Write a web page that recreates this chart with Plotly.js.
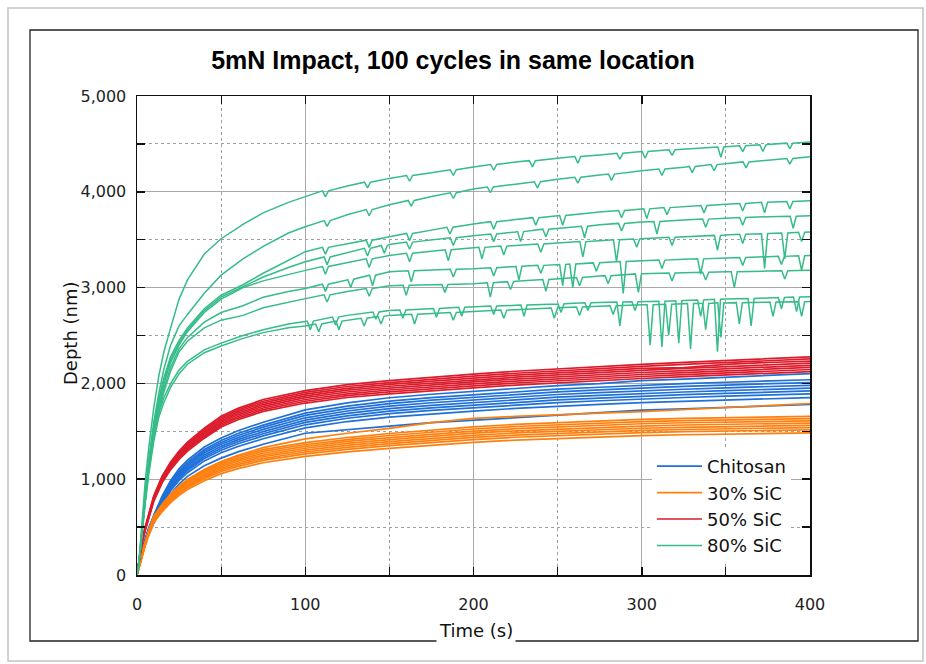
<!DOCTYPE html>
<html><head><meta charset="utf-8">
<script src="https://cdn.plot.ly/plotly-3.0.1.min.js"></script>
<style>html,body{margin:0;padding:0;background:#fff}#chart{width:926px;height:664px}</style>
</head><body><div id="chart"></div>
<script>
// ---------- DATA ----------
const seriesNames = ["Chitosan", "30% SiC", "50% SiC", "80% SiC"];

// time grid (s) for Chitosan / 30% / 50% curves
const timeBand = [0,1,2,3,5,7,10,15,20,25,30,40,50,60,75,100,125,150,175,200,225,250,275,300,325,350,375,400];

// Depth (nm) - Chitosan
const chitosanDepths = [
  [0,85,180,265,387,493,625,827,986,1108,1198,1336,1431,1505,1595,1723,1797,1850,1887,1919,1950,1977,1998,2030,2045,2065,2085,2102],
  [0,83,177,260,380,484,614,811,967,1087,1175,1310,1404,1477,1565,1690,1763,1815,1851,1882,1914,1940,1960,1981,1997,2012,2028,2038],
  [0,82,174,256,374,477,605,800,953,1071,1158,1292,1384,1456,1543,1666,1737,1789,1825,1855,1886,1912,1932,1953,1968,1983,1999,2009],
  [0,81,172,253,369,470,596,788,939,1055,1141,1273,1364,1434,1520,1641,1712,1762,1798,1828,1858,1884,1904,1924,1939,1954,1970,1980],
  [0,80,169,249,363,463,587,776,925,1040,1124,1254,1343,1413,1497,1617,1687,1736,1771,1801,1831,1856,1876,1895,1910,1925,1940,1950],
  [0,78,167,245,358,456,578,764,911,1024,1107,1235,1323,1392,1475,1593,1661,1710,1744,1774,1803,1828,1847,1867,1882,1896,1911,1921],
  [0,77,164,241,352,449,569,753,897,1008,1090,1216,1303,1370,1452,1568,1636,1684,1718,1747,1776,1800,1819,1838,1853,1867,1882,1891],
  [0,76,161,236,345,439,558,737,879,988,1068,1191,1276,1342,1422,1536,1602,1649,1682,1710,1739,1763,1781,1800,1814,1828,1843,1852],
  [0,75,158,230,335,425,540,710,845,950,1030,1140,1220,1285,1365,1480,1520,1555,1590,1615,1645,1670,1695,1720,1735,1750,1765,1780]
];

// Depth (nm) - 30% SiC
const sic30Depths = [
  [0,74,158,232,348,464,612,739,844,928,997,1097,1182,1240,1308,1382,1435,1477,1514,1546,1572,1591,1609,1625,1635,1644,1651,1656],
  [0,73,156,229,343,458,603,728,832,915,983,1082,1165,1222,1290,1362,1414,1456,1492,1524,1550,1568,1586,1602,1612,1620,1628,1633],
  [0,72,154,226,338,451,595,718,820,902,969,1066,1148,1204,1271,1343,1394,1435,1471,1502,1527,1546,1563,1579,1589,1597,1604,1609],
  [0,71,152,222,333,444,586,707,808,889,954,1050,1131,1187,1252,1323,1374,1414,1449,1480,1505,1523,1540,1555,1566,1574,1581,1586],
  [0,70,149,219,328,438,577,697,796,876,940,1035,1114,1169,1234,1303,1353,1393,1428,1458,1483,1500,1517,1532,1542,1550,1557,1562],
  [0,69,147,216,323,431,568,686,784,862,926,1019,1098,1152,1215,1284,1333,1372,1406,1436,1460,1478,1495,1509,1519,1527,1534,1539],
  [0,68,145,212,318,425,560,676,772,849,912,1004,1081,1134,1197,1264,1312,1350,1385,1414,1438,1455,1471,1486,1496,1503,1510,1515],
  [0,66,142,208,312,416,548,662,756,832,893,983,1058,1110,1172,1238,1285,1322,1356,1384,1408,1425,1441,1455,1464,1472,1479,1484],
  [0,75,160,235,350,465,610,735,840,925,995,1100,1185,1250,1330,1420,1480,1530,1590,1635,1655,1675,1690,1705,1725,1745,1770,1790]
];

// Depth (nm) - 50% SiC
const sic50Depths = [
  [0,125,260,362,508,642,828,1035,1180,1294,1387,1532,1656,1739,1832,1925,1987,2029,2065,2096,2127,2153,2179,2199,2220,2241,2261,2277],
  [0,123,256,359,502,636,820,1025,1169,1281,1374,1517,1640,1722,1814,1907,1968,2009,2045,2076,2106,2132,2158,2178,2199,2219,2240,2255],
  [0,122,254,355,497,629,812,1015,1157,1269,1360,1502,1624,1705,1797,1888,1949,1989,2025,2055,2086,2111,2137,2157,2165,2198,2218,2233],
  [0,121,251,352,492,623,804,1005,1146,1256,1347,1487,1608,1688,1779,1869,1930,1970,2005,2035,2065,2090,2116,2136,2156,2176,2196,2211],
  [0,119,249,348,488,617,796,995,1134,1244,1333,1473,1592,1672,1761,1851,1910,1950,1985,2015,2045,2070,2095,2114,2134,2154,2174,2189],
  [0,118,246,345,483,611,788,985,1123,1231,1320,1458,1576,1655,1743,1832,1891,1931,1965,1995,2024,2049,2073,2093,2113,2133,2152,2167],
  [0,117,244,341,478,605,780,975,1112,1219,1307,1443,1560,1638,1726,1814,1872,1911,1945,1974,2004,2028,2052,2072,2091,2111,2130,2145],
  [0,116,241,338,473,598,772,965,1100,1206,1293,1428,1544,1621,1708,1795,1853,1891,1925,1954,1983,2007,2031,2051,2070,2089,2109,2123]
];

// time grid (s) for 80% SiC curves
const timeGreen = [0,1,2,3,5,7,10,13,16,20,25,30,40,50,63,75,90,100,125,150,175,200,225,250,275,300,325,350,375,400];

// Depth (nm) - 80% SiC, upper envelope of each run
const sic80Depths = [
  [0,100,330,560,1000,1330,1750,2080,2330,2580,2880,3080,3350,3510,3660,3780,3890,3950,4060,4140,4200,4260,4310,4350,4385,4420,4445,4470,4495,4520],
  [0,120,300,500,870,1200,1600,1900,2150,2400,2600,2720,2940,3130,3300,3430,3570,3635,3760,3865,3950,4030,4080,4130,4175,4220,4255,4295,4330,4365],
  [0,100,290,500,850,1180,1560,1840,2060,2280,2450,2580,2780,2920,3030,3150,3290,3375,3460,3530,3600,3665,3710,3750,3790,3820,3845,3870,3890,3906],
  [0,100,285,490,840,1160,1540,1810,2030,2250,2420,2560,2760,2900,3010,3110,3210,3270,3365,3450,3500,3540,3580,3620,3655,3685,3705,3725,3740,3750],
  [0,95,280,480,820,1140,1510,1780,2000,2220,2400,2540,2740,2880,3000,3070,3140,3180,3260,3335,3380,3415,3440,3465,3490,3510,3530,3550,3565,3580],
  [0,95,270,470,800,1110,1470,1740,1950,2170,2360,2480,2640,2740,2810,2900,2960,2990,3080,3165,3185,3198,3220,3240,3260,3280,3295,3310,3322,3335],
  [0,90,265,460,790,1090,1440,1700,1910,2130,2330,2440,2580,2660,2710,2790,2850,2885,2960,3020,3030,3040,3065,3090,3120,3145,3155,3165,3172,3180],
  [0,100,280,480,800,1100,1450,1700,1850,2000,2140,2230,2350,2420,2500,2560,2620,2645,2710,2760,2780,2800,2815,2830,2845,2855,2865,2880,2892,2905],
  [0,90,260,450,760,1050,1400,1650,1800,1960,2100,2200,2320,2390,2470,2530,2580,2600,2660,2710,2730,2750,2770,2790,2805,2820,2830,2840,2848,2855]
];

// 80% SiC unloading dips: [time (s), depth before dip (nm), depth at dip (nm)]
const sic80Dips = [
  [[112,4010,3950],[137,4100,4040],[162,4170,4110],[188,4230,4170],[212,4285,4225],[235,4325,4260],[262,4368,4300],[287,4402,4340],[302,4420,4350],[318,4438,4380],[347,4468,4360],[360,4480,4420],[372,4490,4420],[388,4508,4450]],
  [[113,3700,3640],[138,3815,3750],[163,3910,3850],[188,3990,3930],[210,4050,3990],[238,4105,4040],[262,4152,4090],[282,4185,4120],[312,4238,4170],[330,4265,4200],[343,4284,4220],[362,4312,4250],[388,4348,4290]],
  [[112,3420,3350],[138,3495,3420],[162,3565,3490],[186,3630,3560],[212,3688,3610],[237,3730,3650],[253,3752,3650],[288,3805,3730],[303,3822,3720],[315,3835,3760],[337,3857,3780],[360,3878,3800],[373,3890,3780],[388,3898,3820]],
  [[113,3320,3240],[137,3410,3330],[147,3440,3360],[162,3475,3400],[188,3520,3440],[212,3560,3480],[228,3585,3480],[243,3610,3530],[266,3640,3520],[288,3670,3590],[309,3690,3560],[338,3715,3630],[360,3731,3650],[390,3745,3620]],
  [[112,3220,3140],[138,3300,3210],[162,3358,3270],[185,3395,3280],[205,3420,3300],[218,3433,3340],[240,3455,3370],[265,3480,3320],[285,3500,3270],[297,3508,3420],[318,3525,3440],[345,3545,3390],[360,3556,3460],[373,3563,3200],[385,3570,3300],[395,3577,3480]],
  [[112,3035,2960],[127,3088,3000],[140,3130,3020],[163,3175,3060],[188,3192,3110],[212,3208,3120],[227,3222,3080],[240,3232,3150],[253,3242,3020],[259,3246,3000],[273,3258,3170],[289,3272,2940],[312,3287,3200],[335,3300,3140],[360,3315,3230],[383,3326,3240],[395,3332,3180]],
  [[113,2925,2850],[138,2990,2910],[160,3025,2920],[183,3033,2950],[210,3050,2900],[222,3062,2980],[243,3085,2960],[263,3105,3020],[280,3125,3040],[298,3143,2950],[318,3152,3070],[338,3160,3080],[355,3166,3000],[385,3175,3090]],
  [[103,2650,2560],[118,2692,2610],[142,2745,2670],[158,2766,2680],[178,2782,2690],[193,2795,2700],[212,2807,2720],[230,2818,2700],[252,2831,2740],[268,2841,2760],[287,2850,2600],[296,2853,2760],[312,2857,2380],[322,2862,2420],[335,2871,2700],[345,2878,2330],[365,2887,2600],[383,2896,2780],[392,2901,2750]],
  [[108,2620,2540],[120,2650,2560],[135,2680,2600],[145,2700,2620],[165,2722,2620],[188,2740,2660],[218,2765,2680],[248,2788,2680],[263,2798,2710],[283,2810,2720],[305,2822,2400],[316,2826,2500],[329,2833,2360],[338,2835,2560],[347,2841,2480],[358,2843,2620],[378,2849,2700],[395,2852,2700]]
];

const xTickLabels = ["0","100","200","300","400"];
const yTickLabels = ["0","1,000","2,000","3,000","4,000","5,000"];

// ---------- STYLE ----------
const colors = ["#1f70d8", "#ff7f0e", "#dc1c2c", "#35bc88"];
const lineWidths = [1.7, 1.7, 1.7, 1.5];
const SPIKE_HALF = 1.8;

function withDips(t, y, dips) {
  const pts = t.map((tt, i) => [tt, y[i]]);
  dips.forEach(([td, lvl, dv]) => { pts.push([td - SPIKE_HALF, lvl], [td, dv], [td + SPIKE_HALF, lvl]); });
  pts.sort((a, b) => a[0] - b[0]);
  return { x: pts.map(p => p[0]), y: pts.map(p => p[1]) };
}

const traces = [];
function addGroup(idx, xs, ys) {
  traces.push({
    type: "scatter", mode: "lines", x: xs, y: ys,
    name: seriesNames[idx], legendgroup: "g" + idx, showlegend: false,
    line: { color: colors[idx], width: lineWidths[idx] }, hoverinfo: "skip"
  });
}
chitosanDepths.forEach(c => addGroup(0, timeBand, c));
sic30Depths.forEach(c => addGroup(1, timeBand, c));
sic50Depths.forEach(c => addGroup(2, timeBand, c));
sic80Depths.forEach((c, i) => { const d = withDips(timeGreen, c, sic80Dips[i]); addGroup(3, d.x, d.y); });
// first trace of each group carries the legend entry
[0, chitosanDepths.length, chitosanDepths.length + sic30Depths.length,
 chitosanDepths.length + sic30Depths.length + sic50Depths.length].forEach(k => traces[k].showlegend = true);

const L = 137, R = 810, T = 96, B = 575, W = 926, H = 664;
const px = v => (v - L) / (R - L);
const py = v => (B - v) / (B - T);

const tickFont = { family: "DejaVu Sans", size: 16, color: "#222" };
const gridMajor = "#a9a9a9", gridMinor = "#a0a0a0";

const layout = {
  width: W, height: H,
  margin: { l: L, r: W - R, t: T, b: H - B, pad: 0 },
  paper_bgcolor: "#fff", plot_bgcolor: "#fff",
  showlegend: true,
  title: {
    text: "5mN Impact, 100 cycles in same location",
    font: { family: "Liberation Sans", size: 25, color: "#000", weight: "bold" },
    x: 453 / W, xanchor: "center", xref: "container",
    y: 1 - 60 / H, yanchor: "middle", yref: "container"
  },
  xaxis: {
    range: [0, 400], tickvals: [0, 100, 200, 300, 400], ticktext: xTickLabels,
    showgrid: true, gridcolor: gridMajor, gridwidth: 1,
    zeroline: false, showline: true, linecolor: "#111", linewidth: 1.5, mirror: "ticks",
    ticks: "inside", ticklen: 8, tickwidth: 1.5, tickcolor: "#111",
    tickfont: tickFont, ticklabelstandoff: 14,
    minor: { dtick: 50, tick0: 0, showgrid: true, gridcolor: gridMinor, griddash: "dot", gridwidth: 1,
             ticks: "inside", ticklen: 8, tickwidth: 1.2, tickcolor: "#111" },
    fixedrange: true
  },
  yaxis: {
    range: [0, 5000], tickvals: [0, 1000, 2000, 3000, 4000, 5000], ticktext: yTickLabels,
    showgrid: true, gridcolor: gridMajor, gridwidth: 1,
    zeroline: false, showline: true, linecolor: "#111", linewidth: 1.5, mirror: "ticks",
    ticks: "inside", ticklen: 8, tickwidth: 1.5, tickcolor: "#111",
    tickfont: tickFont, ticklabelstandoff: 6,
    minor: { dtick: 500, tick0: 0, showgrid: true, gridcolor: gridMinor, griddash: "dot", gridwidth: 1,
             ticks: "inside", ticklen: 8, tickwidth: 1.2, tickcolor: "#111" },
    fixedrange: true
  },
  legend: {
    x: px(652), y: py(448), xanchor: "left", yanchor: "top",
    bgcolor: "#fff", borderwidth: 0,
    font: { family: "DejaVu Sans", size: 18, color: "#111" },
    tracegroupgap: 0, itemwidth: 45, traceorder: "grouped"
  },
  shapes: [
    { type: "rect", xref: "paper", yref: "paper", layer: "below",
      x0: px(8), x1: px(923), y0: py(661), y1: py(8), line: { color: "#c4c4c4", width: 1.5 } },
    { type: "rect", xref: "paper", yref: "paper", layer: "below",
      x0: px(30), x1: px(918), y0: py(641), y1: py(30), line: { color: "#222", width: 1.3 } }
  ],
  annotations: [
    { text: "Depth (nm)", xref: "paper", yref: "paper", x: px(70), y: py(333), textangle: -90,
      showarrow: false, xanchor: "center", yanchor: "middle",
      font: { family: "DejaVu Sans", size: 18, color: "#111" } },
    { text: "Time (s)", xref: "paper", yref: "paper", x: px(476), y: py(630),
      showarrow: false, xanchor: "center", yanchor: "middle", bgcolor: "#fff", borderpad: 2,
      font: { family: "DejaVu Sans", size: 18, color: "#111" } }
  ]
};

Plotly.newPlot("chart", traces, layout, { staticPlot: true, displayModeBar: false });
</script>
</body></html>
